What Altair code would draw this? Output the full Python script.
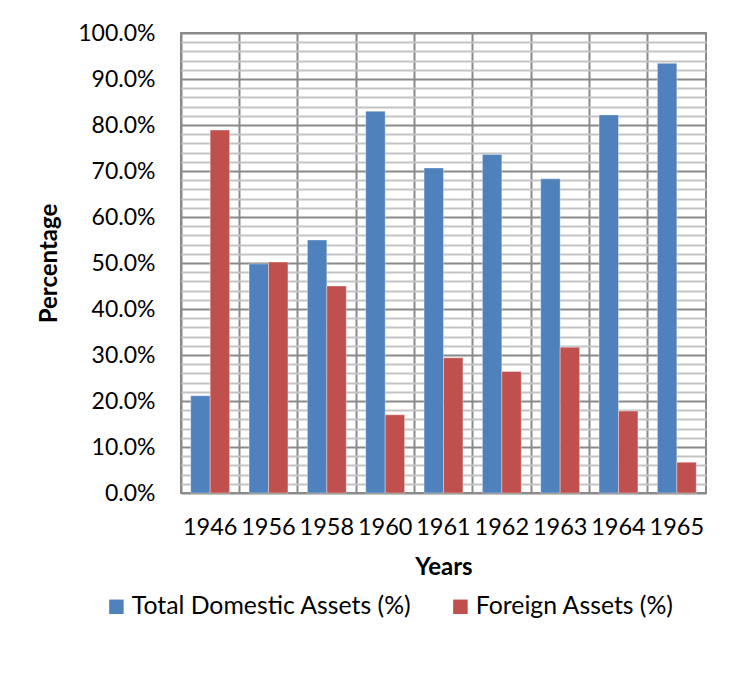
import altair as alt
import pandas as pd

years = ["1946", "1956", "1958", "1960", "1961", "1962", "1963", "1964", "1965"]
domestic = [0.2115, 0.498, 0.550, 0.830, 0.7065, 0.736, 0.683, 0.822, 0.934]
foreign = [0.789, 0.502, 0.450, 0.170, 0.294, 0.264, 0.317, 0.178, 0.067]
series = ["Total Domestic Assets (%)", "Foreign Assets (%)"]
colors = ["#4F81BD", "#C0504D"]
y_ticks = [i / 50 for i in range(51)]

rows = []
for i, yr in enumerate(years):
    rows.append({"Year": yr, "Series": series[0], "Value": domestic[i]})
    rows.append({"Year": yr, "Series": series[1], "Value": foreign[i]})
df = pd.DataFrame(rows)

FONT = "Lato"

chart = alt.Chart(df).mark_bar(stroke="#ffffff", strokeOpacity=0.35, strokeWidth=1).encode(
    x=alt.X("Year:N", sort=years, title="Years",
            scale=alt.Scale(paddingInner=0, paddingOuter=0),
            axis=alt.Axis(labelAngle=0, grid=True, bandPosition=0, gridColor="#8a8a8a",
                          gridWidth=2, ticks=False, domain=False, labelPadding=22,
                          labelFontSize=23.5, labelFont=FONT, labelColor="#000",
                          titleFont=FONT, titleFontSize=24, titleFontWeight="bold",
                          titleColor="#000", titlePadding=17)),
    xOffset=alt.XOffset("Series:N", sort=series,
                        scale=alt.Scale(paddingInner=0, paddingOuter=0.5)),
    y=alt.Y("Value:Q", title="Percentage",
            scale=alt.Scale(domain=[0, 1], nice=False),
            axis=alt.Axis(values=y_ticks, format=".1%",
                          labelExpr="round(datum.value*100) % 10 == 0 ? datum.label : ''",
                          gridColor={"condition": {"test": "round(datum.value*100) % 10 == 0", "value": "#8a8a8a"}, "value": "#c4c4c4"},
                          gridWidth=1.8, ticks=False, domain=False, labelPadding=26,
                          labelFontSize=23, labelFont=FONT, labelColor="#000",
                          titleFont=FONT, titleFontSize=24, titleFontWeight="bold",
                          titleColor="#000", titlePadding=16)),
    color=alt.Color("Series:N", sort=series,
                    scale=alt.Scale(domain=series, range=colors),
                    legend=alt.Legend(title=None, orient="none", direction="horizontal",
                                      legendX=-77, legendY=561, symbolType="square",
                                      symbolSize=210, symbolStrokeWidth=0,
                                      labelFont=FONT, labelFontSize=24.8, labelColor="#000",
                                      labelLimit=500, columnPadding=36, labelOffset=3)),
).properties(
    width=525, height=460,
    autosize=alt.AutoSizeParams(type="none"),
    padding={"left": 173, "top": 25, "right": 19, "bottom": 170},
).configure_view(stroke="#8a8a8a", strokeWidth=2)

chart.save("out.html", embed_options={"renderer": "svg", "actions": False})
